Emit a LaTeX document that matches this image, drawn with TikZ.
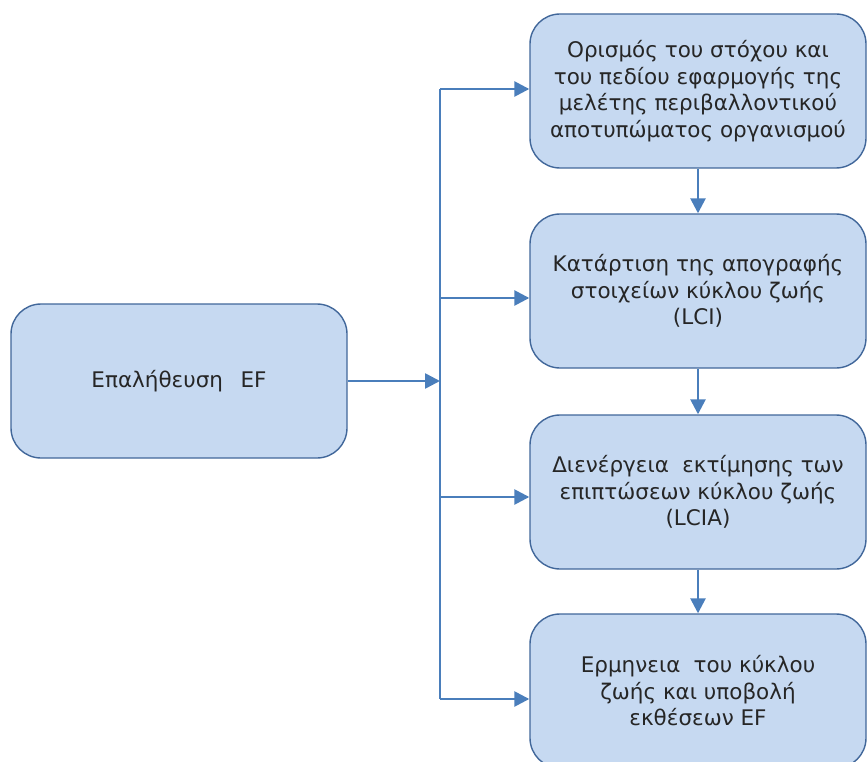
\documentclass[tikz,border=0pt]{standalone}
\usepackage{fontspec}
\setmainfont{DejaVu Sans}
\usetikzlibrary{arrows.meta}
\definecolor{boxfill}{HTML}{C6D9F1}
\definecolor{boxline}{HTML}{41679A}
\definecolor{arrowc}{HTML}{4A7EBB}
\definecolor{txt}{HTML}{262626}
\tikzset{
  x=1pt, y=1pt,
  stage/.style={draw=boxline, line width=1.4pt, fill=boxfill, rounded corners=30pt,
    minimum width=336pt, minimum height=154pt, inner sep=0pt, align=center,
    text=txt, font=\fontsize{21.5}{26.5}\selectfont},
  flow/.style={draw=arrowc, line width=2.6pt, -{Triangle[length=15pt,width=15pt]}},
  trunk/.style={draw=arrowc, line width=2.6pt}
}
\begin{document}
\begin{tikzpicture}
\useasboundingbox (0,0) rectangle (867,-762);
% the starting step
\node[stage] (ver) at (179,-381) {Επαλήθευση\hspace{0.5em} EF};
% the four steps of the study
\node[stage] (s1) at (698,-91) {Ορισμός του στόχου και\\του πεδίου εφαρμογής της\\μελέτης περιβαλλοντικού\\αποτυπώματος οργανισμού};
\node[stage] (s2) at (698,-291) {Κατάρτιση της απογραφής\\στοιχείων κύκλου ζωής\\(LCI)};
\node[stage] (s3) at (698,-492) {Διενέργεια\hspace{0.3em} εκτίμησης των\\επιπτώσεων κύκλου ζωής\\(LCIA)};
\node[stage] (s4) at (698,-691) {Ερμηνεια\hspace{0.3em} του κύκλου\\ζωής και υποβολή\\εκθέσεων EF};
% branching line
\coordinate (ttop) at (440,-89);
\coordinate (tmid) at (440,-381);
\coordinate (t2) at (440,-298);
\coordinate (t3) at (440,-497);
\coordinate (tbot) at (440,-699);
\draw[trunk] (ttop) -- (tbot);
\draw[flow] (ver.east |- tmid) -- (tmid);
\draw[flow] (ttop) -- (ttop -| s1.west);
\draw[flow] (t2) -- (t2 -| s2.west);
\draw[flow] (t3) -- (t3 -| s3.west);
\draw[flow] (tbot) -- (tbot -| s4.west);
% steps in sequence
\draw[flow] (s1.south) -- (s2.north);
\draw[flow] (s2.south) -- (s3.north);
\draw[flow] (s3.south) -- (s4.north);
\end{tikzpicture}
\end{document}
